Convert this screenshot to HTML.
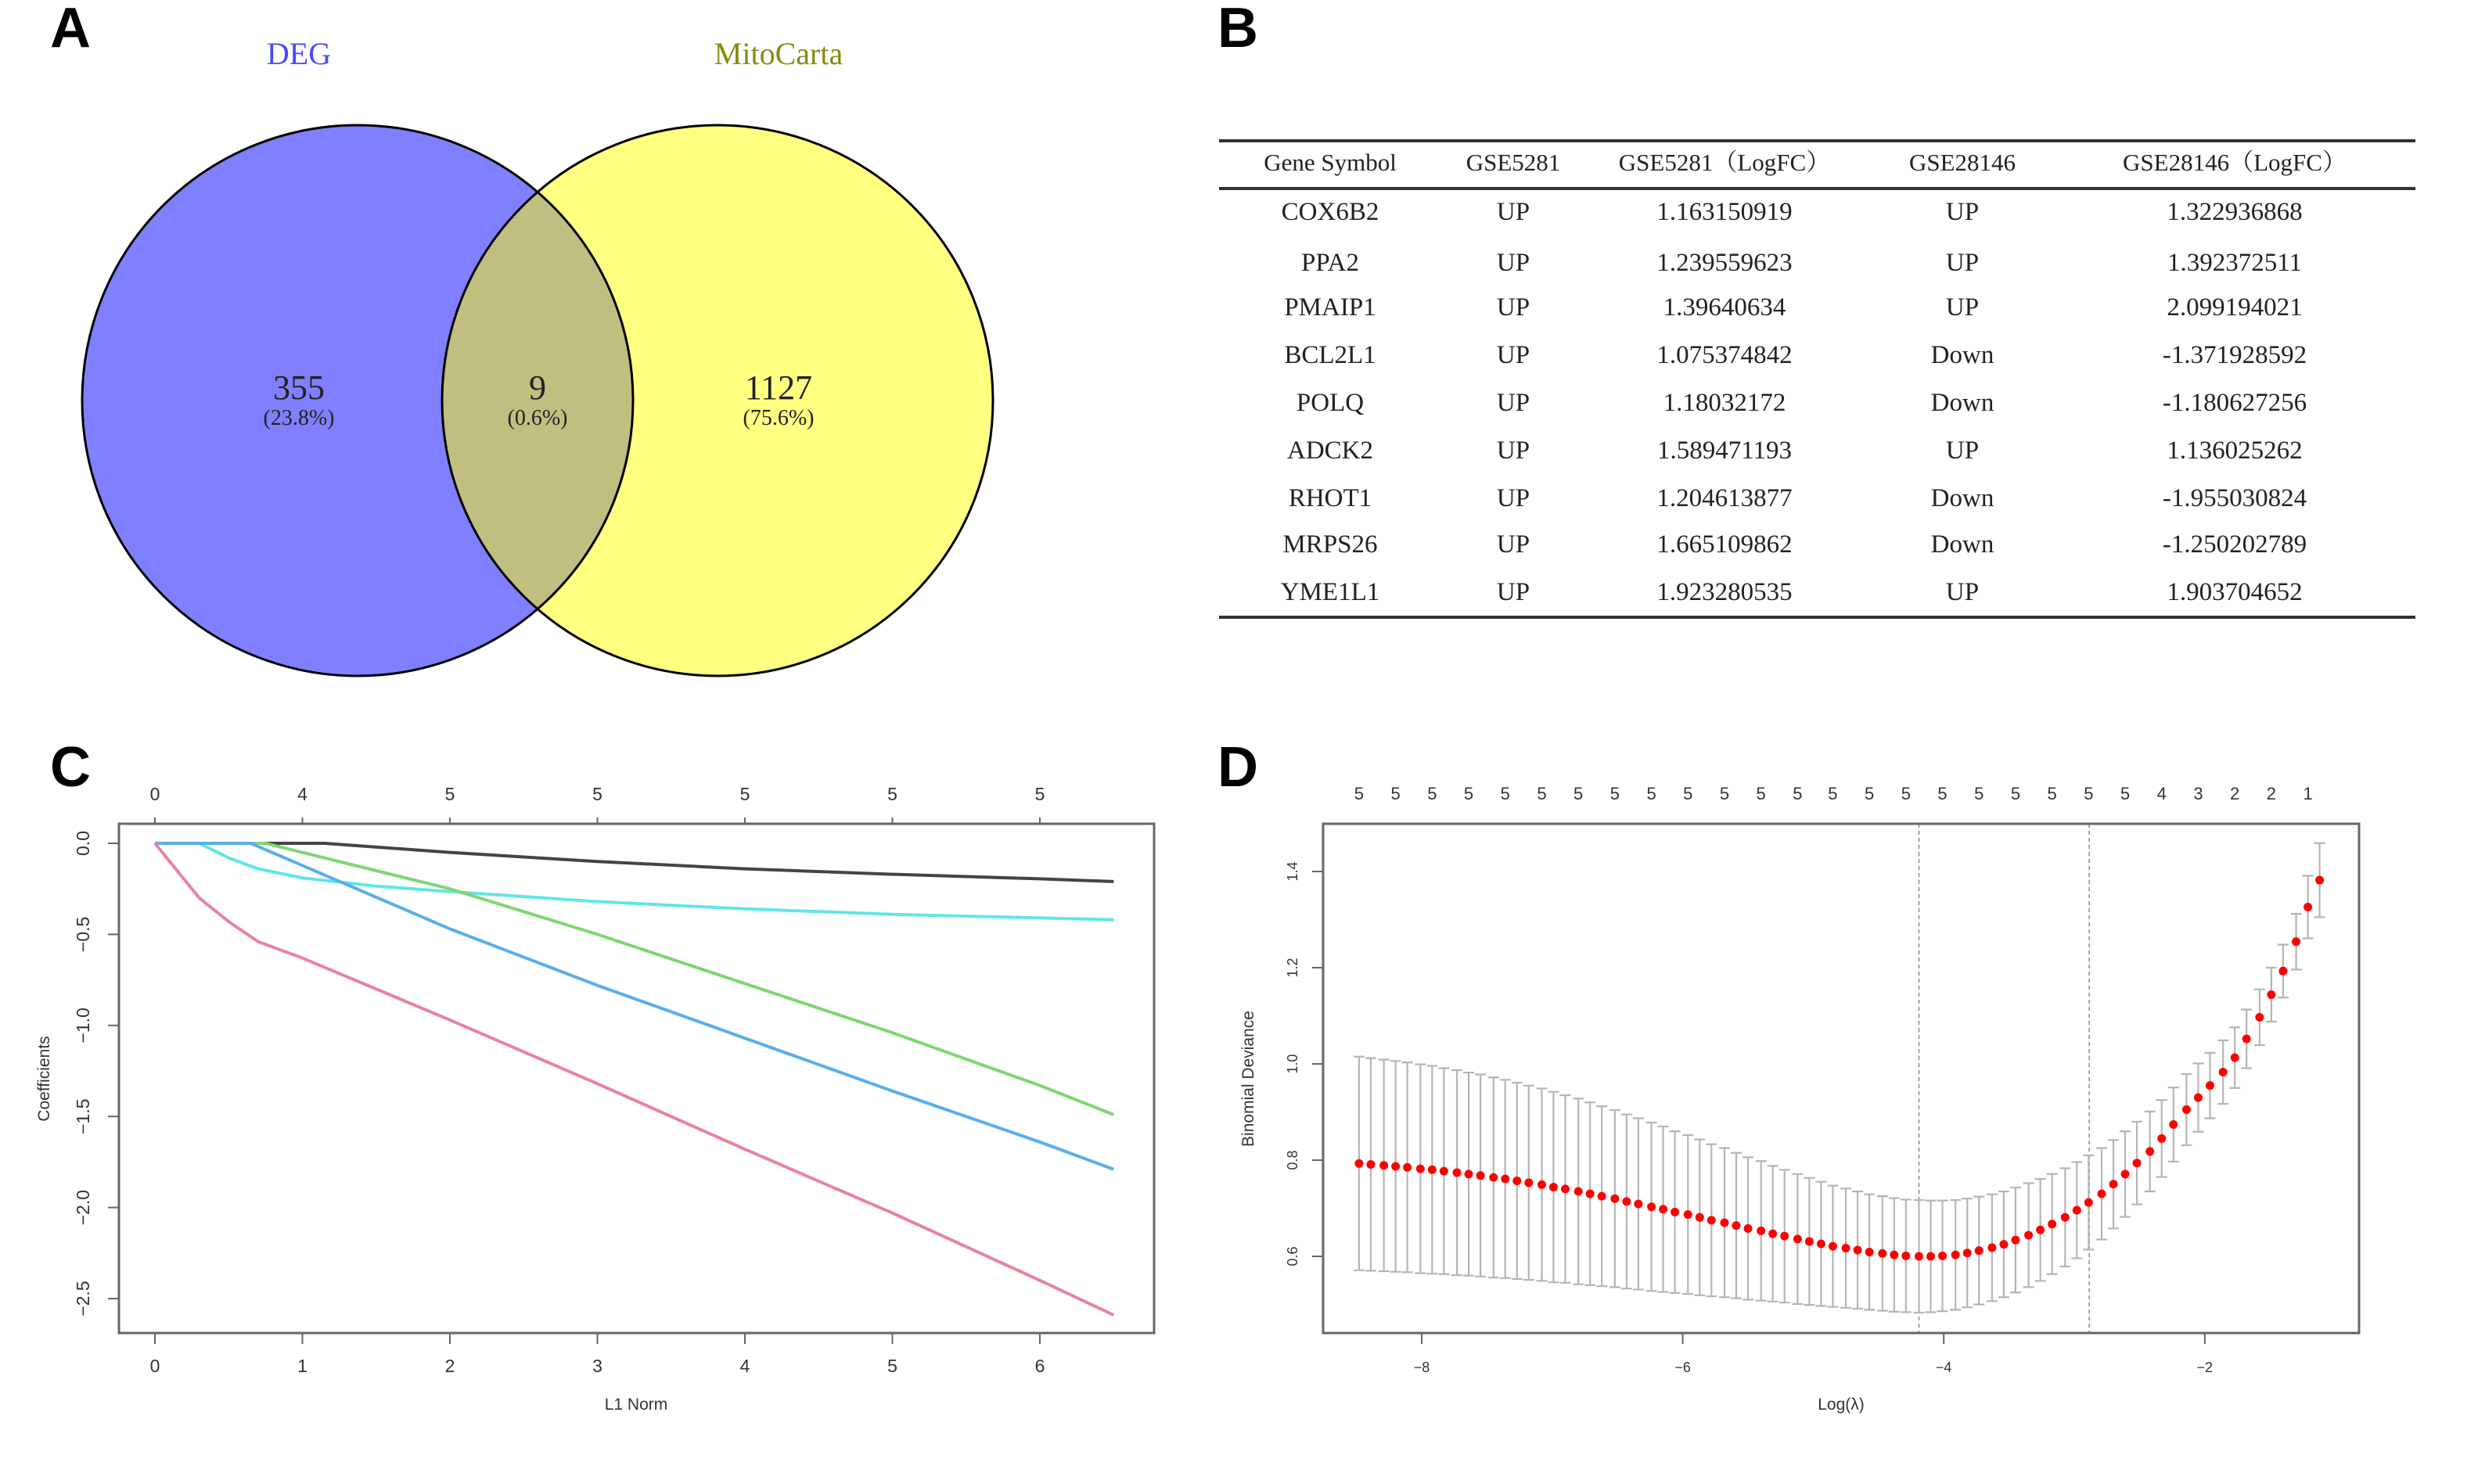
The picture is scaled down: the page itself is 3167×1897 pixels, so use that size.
<!DOCTYPE html>
<html><head><meta charset="utf-8"><style>
html,body{margin:0;padding:0;background:#fff;width:3167px;height:1897px;overflow:hidden}
svg{display:block}
</style></head><body>
<svg id="fig" width="3167" height="1897" viewBox="0 0 3167 1897" xmlns="http://www.w3.org/2000/svg">
<defs>
<clipPath id="clipLeft"><circle cx="457" cy="512" r="352"/></clipPath>
</defs>
<g font-family="'Liberation Sans', Arial, sans-serif" font-weight="bold" font-size="72" fill="#000">
<text x="64" y="60">A</text>
<text x="1556" y="60">B</text>
<text x="64" y="1005">C</text>
<text x="1556" y="1005">D</text>
</g>
<!-- Panel A Venn -->
<g>
<circle cx="457" cy="512" r="352" fill="#8080FF"/>
<circle cx="917" cy="512" r="352" fill="#FFFF80"/>
<circle cx="917" cy="512" r="352" fill="#C0BF80" clip-path="url(#clipLeft)"/>
<circle cx="457" cy="512" r="352" fill="none" stroke="#000" stroke-width="3"/>
<circle cx="917" cy="512" r="352" fill="none" stroke="#000" stroke-width="3"/>
<g font-family="'Liberation Serif', 'Noto Serif CJK SC', serif" text-anchor="middle">
<text x="382" y="82" font-size="40" fill="#4a4aff">DEG</text>
<text x="995" y="82" font-size="40" fill="#8a8a10">MitoCarta</text>
<text x="382" y="510" font-size="44" fill="#222">355</text>
<text x="382" y="543" font-size="28" fill="#222">(23.8%)</text>
<text x="687" y="510" font-size="44" fill="#222">9</text>
<text x="687" y="543" font-size="28" fill="#222">(0.6%)</text>
<text x="995" y="510" font-size="44" fill="#222">1127</text>
<text x="995" y="543" font-size="28" fill="#222">(75.6%)</text>
</g>
</g>
<!-- Panel B table -->
<g id="table" font-family="'Liberation Serif', 'Noto Serif CJK SC', serif" text-anchor="middle" fill="#222">
<line x1="1558" y1="180" x2="3087" y2="180" stroke="#333" stroke-width="4"/>
<line x1="1558" y1="241" x2="3087" y2="241" stroke="#333" stroke-width="4"/>
<line x1="1558" y1="789" x2="3087" y2="789" stroke="#333" stroke-width="4"/>
</g>
<g id="panelC"></g>
<g id="panelD"></g>
</svg>
<script>
const NS='http://www.w3.org/2000/svg';
function mk(parent,tag,attrs,text){const e=document.createElementNS(NS,tag);for(const k in attrs)e.setAttribute(k,attrs[k]);if(text!==undefined)e.textContent=text;parent.appendChild(e);return e;}

// ---------- Table data ----------
const tableHeaders=['Gene Symbol','GSE5281','GSE5281（LogFC）','GSE28146','GSE28146（LogFC）'];
const genes=['COX6B2','PPA2','PMAIP1','BCL2L1','POLQ','ADCK2','RHOT1','MRPS26','YME1L1'];
const gse5281Dir=['UP','UP','UP','UP','UP','UP','UP','UP','UP'];
const gse5281FC=['1.163150919','1.239559623','1.39640634','1.075374842','1.18032172','1.589471193','1.204613877','1.665109862','1.923280535'];
const gse28146Dir=['UP','UP','UP','Down','Down','UP','Down','Down','UP'];
const gse28146FC=['1.322936868','1.392372511','2.099194021','-1.371928592','-1.180627256','1.136025262','-1.955030824','-1.250202789','1.903704652'];
const colX=[1700,1934,2204,2508,2856];
const rowY=[281,346,403,464,525,586,647,706,767];
const tbl=document.getElementById('table');
tableHeaders.forEach((h,i)=>{
  const t=mk(tbl,'text',{x:colX[i],y:218,'font-size':31},h);
  
  
});
genes.forEach((g,r)=>{
  const cols=[g,gse5281Dir[r],gse5281FC[r],gse28146Dir[r],gse28146FC[r]];
  cols.forEach((v,c)=>{
    const t=mk(tbl,'text',{x:colX[c],y:rowY[r],'font-size':33},v);
    
    
  });
});

// ---------- Panel C data ----------
const cTopLabels=['0','4','5','5','5','5','5'];
const cXTicks=[0,1,2,3,4,5,6];
const cYTicks=[0,-0.5,-1,-1.5,-2,-2.5];
const blackX=[0,1.15,2,3,4,5,6,6.5];
const blackY=[0,0,-0.05,-0.10,-0.14,-0.17,-0.195,-0.21];
const cyanX=[0,0.3,0.5,0.7,1,1.5,2,3,4,5,6,6.5];
const cyanY=[0,0,-0.08,-0.14,-0.19,-0.235,-0.265,-0.32,-0.36,-0.39,-0.41,-0.42];
const blueX=[0,0.65,2,3,4,5,6,6.5];
const blueY=[0,0,-0.47,-0.78,-1.07,-1.36,-1.64,-1.79];
const greenX=[0,0.75,2,3,4,5,6,6.5];
const greenY=[0,0,-0.25,-0.5,-0.77,-1.04,-1.33,-1.49];
const redX=[0,0.15,0.3,0.5,0.7,1,2,3,4,5,6,6.5];
const redY=[0,-0.15,-0.3,-0.43,-0.54,-0.63,-0.97,-1.32,-1.68,-2.03,-2.40,-2.59];

// ---------- Panel D data ----------
const dLogLambda=[-8.48,-8.39,-8.29,-8.20,-8.11,-8.01,-7.92,-7.83,-7.73,-7.64,-7.55,-7.45,-7.36,-7.27,-7.18,-7.08,-6.99,-6.90,-6.80,-6.71,-6.62,-6.52,-6.43,-6.34,-6.24,-6.15,-6.06,-5.96,-5.87,-5.78,-5.68,-5.59,-5.50,-5.40,-5.31,-5.22,-5.12,-5.03,-4.94,-4.85,-4.75,-4.66,-4.57,-4.47,-4.38,-4.29,-4.19,-4.10,-4.01,-3.91,-3.82,-3.73,-3.63,-3.54,-3.45,-3.35,-3.26,-3.17,-3.07,-2.98,-2.89,-2.79,-2.70,-2.61,-2.52,-2.42,-2.33,-2.24,-2.14,-2.05,-1.96,-1.86,-1.77,-1.68,-1.58,-1.49,-1.40,-1.30,-1.21,-1.12];
const dMean=[0.793,0.791,0.789,0.787,0.785,0.782,0.780,0.777,0.774,0.771,0.768,0.764,0.761,0.757,0.753,0.749,0.744,0.740,0.735,0.730,0.725,0.720,0.714,0.709,0.703,0.698,0.692,0.687,0.681,0.675,0.670,0.664,0.658,0.653,0.647,0.642,0.636,0.631,0.626,0.621,0.617,0.613,0.609,0.606,0.603,0.601,0.600,0.600,0.601,0.603,0.607,0.612,0.618,0.625,0.634,0.644,0.655,0.667,0.681,0.696,0.712,0.730,0.750,0.771,0.794,0.818,0.845,0.874,0.905,0.930,0.955,0.983,1.013,1.052,1.097,1.144,1.193,1.254,1.326,1.382];
const dSE=[0.222,0.221,0.220,0.219,0.218,0.217,0.216,0.214,0.213,0.211,0.210,0.208,0.206,0.204,0.202,0.200,0.198,0.195,0.193,0.190,0.187,0.184,0.181,0.178,0.175,0.172,0.168,0.165,0.162,0.158,0.155,0.151,0.148,0.145,0.141,0.138,0.135,0.132,0.129,0.126,0.124,0.122,0.120,0.119,0.118,0.117,0.117,0.116,0.115,0.114,0.113,0.112,0.111,0.110,0.109,0.108,0.106,0.104,0.102,0.100,0.098,0.095,0.092,0.089,0.086,0.083,0.080,0.077,0.074,0.071,0.068,0.066,0.063,0.061,0.058,0.056,0.055,0.058,0.065,0.077];
const dTopLabels=['5','5','5','5','5','5','5','5','5','5','5','5','5','5','5','5','5','5','5','5','5','5','4','3','2','2','1'];
const dXTicks=[-8,-6,-4,-2];
const dYTicks=[0.6,0.8,1.0,1.2,1.4];
const dVLines=[-4.19,-2.885];

// ---------- Panel C drawing ----------
(function(){
  const g=document.getElementById('panelC');
  const L=152,R=1475,T=1053,B=1704;
  const xs=v=>198+v*188.5;
  const ys=v=>1078-v*232.8;
  mk(g,'rect',{x:L,y:T,width:R-L,height:B-T,fill:'none',stroke:'#666','stroke-width':3});
  const f="'Liberation Sans', Arial, sans-serif";
  cXTicks.forEach((v,i)=>{
    mk(g,'line',{x1:xs(v),y1:B,x2:xs(v),y2:B+14,stroke:'#666','stroke-width':2});
    const t=mk(g,'text',{x:xs(v),y:B+50,'font-size':23,'font-family':f,'text-anchor':'middle',fill:'#333'},String(v));
    
    
    mk(g,'line',{x1:xs(v),y1:T,x2:xs(v),y2:T-8,stroke:'#666','stroke-width':2});
    const tt=mk(g,'text',{x:xs(v),y:T-30,'font-size':23,'font-family':f,'text-anchor':'middle',fill:'#333'},cTopLabels[i]);
    
    
  });
  cYTicks.forEach(v=>{
    mk(g,'line',{x1:L,y1:ys(v),x2:L-14,y2:ys(v),stroke:'#666','stroke-width':2});
    const t=mk(g,'text',{x:0,y:0,'font-size':23,'font-family':f,'text-anchor':'middle',fill:'#333',transform:`translate(114,${ys(v)}) rotate(-90)`},v.toFixed(1).replace('-','\u2212'));
    
    
  });
  const xl=mk(g,'text',{x:813,y:1802,'font-size':21,'font-family':f,'text-anchor':'middle',fill:'#333'},'L1 Norm');
  
  
  const yl=mk(g,'text',{x:0,y:0,'font-size':21,'font-family':f,'text-anchor':'middle',fill:'#333',transform:'translate(63,1379) rotate(-90)'},'Coefficients');
  
  
  const series=[[blackX,blackY,'#444444','path-black'],[cyanX,cyanY,'#5fe6e8','path-cyan'],[greenX,greenY,'#7fd672','path-green'],[blueX,blueY,'#5aaeea','path-blue'],[redX,redY,'#e9839a','path-red']];
  series.forEach(s=>{
    const d=s[0].map((x,i)=>(i?'L':'M')+xs(x).toFixed(1)+','+ys(s[1][i]).toFixed(1)).join(' ');
    const p=mk(g,'path',{d:d,fill:'none',stroke:s[2],'stroke-width':4});
    
    
  });
})();

// ---------- Panel D drawing ----------
(function(){
  const g=document.getElementById('panelD');
  const L=1691,R=3015,T=1053,B=1704;
  const xs=v=>1817+(v+8)*166.8;
  const ys=v=>1606-(v-0.6)*615;
  const f="'Liberation Sans', Arial, sans-serif";
  dVLines.forEach(v=>{
    const l=mk(g,'line',{x1:xs(v),y1:T,x2:xs(v),y2:B,stroke:'#888','stroke-width':1.5,'stroke-dasharray':'5,4'});
    
    
  });
  dLogLambda.forEach((x,i)=>{
    const X=xs(x),yu=ys(dMean[i]+dSE[i]),yl=ys(dMean[i]-dSE[i]);
    const e=mk(g,'path',{d:`M${X},${yu} L${X},${yl} M${X-7},${yu} L${X+7},${yu} M${X-7},${yl} L${X+7},${yl}`,stroke:'#b5b5b5','stroke-width':2.2,fill:'none'});
    
    
  });
  dLogLambda.forEach((x,i)=>{
    const c=mk(g,'circle',{cx:xs(x),cy:ys(dMean[i]),r:5.5,fill:'#ff0000'});
    
    
  });
  mk(g,'rect',{x:L,y:T,width:R-L,height:B-T,fill:'none',stroke:'#666','stroke-width':3});
  dXTicks.forEach(v=>{
    mk(g,'line',{x1:xs(v),y1:B,x2:xs(v),y2:B+14,stroke:'#666','stroke-width':2});
    const t=mk(g,'text',{x:xs(v),y:B+50,'font-size':18,'font-family':f,'text-anchor':'middle',fill:'#333'},String(v).replace('-','\u2212'));
    
    
  });
  dYTicks.forEach(v=>{
    mk(g,'line',{x1:L,y1:ys(v),x2:L-14,y2:ys(v),stroke:'#666','stroke-width':2});
    const t=mk(g,'text',{x:0,y:0,'font-size':18,'font-family':f,'text-anchor':'middle',fill:'#333',transform:`translate(1658,${ys(v)}) rotate(-90)`},v.toFixed(1));
    
    
  });
  dTopLabels.forEach((lab,k)=>{
    const t=mk(g,'text',{x:xs(dLogLambda[k*3]),y:1022,'font-size':22,'font-family':f,'text-anchor':'middle',fill:'#333'},lab);
    
    
  });
  const xl=mk(g,'text',{x:2353,y:1802,'font-size':21,'font-family':f,'text-anchor':'middle',fill:'#333'},'Log(λ)');
  
  
  const yl=mk(g,'text',{x:0,y:0,'font-size':21,'font-family':f,'text-anchor':'middle',fill:'#333',transform:'translate(1602,1379) rotate(-90)'},'Binomial Deviance');
  
  
})();
</script>
</body></html>
